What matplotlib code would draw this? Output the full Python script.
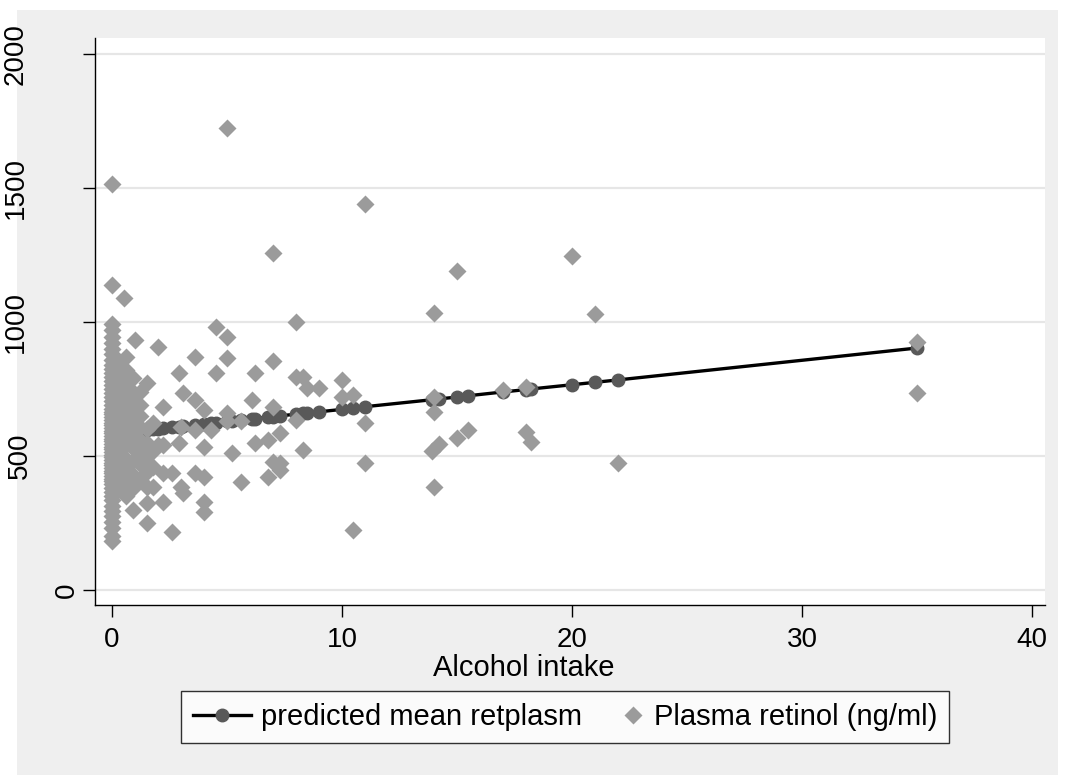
import matplotlib
matplotlib.use("Agg")
import matplotlib.pyplot as plt
import matplotlib.transforms as mtransforms
from matplotlib.patches import Rectangle
from matplotlib.lines import Line2D
from matplotlib.legend_handler import HandlerLine2D

plt.rcParams['font.family'] = ['Liberation Sans', 'DejaVu Sans']

# ---------------- data ----------------
alc0 = [0.0] * 60
ret0 = [183, 201, 230, 255, 275, 295, 315, 335, 350, 365, 380, 395, 405, 415,
        425, 435, 445, 455, 465, 475, 485, 495, 505, 515, 525, 535, 545, 555,
        565, 575, 585, 595, 605, 615, 625, 635, 645, 655, 665, 675, 690, 705,
        720, 735, 750, 765, 780, 795, 810, 825, 840, 860, 880, 900, 920, 945,
        970, 993, 1140, 1515]

alcohol = alc0 + [
    0.3, 0.3, 0.3, 0.3, 0.3, 0.3, 0.3, 0.3, 0.3, 0.3, 0.3,
    0.5, 0.6, 0.6, 0.6, 0.6, 0.6, 0.6, 0.6, 0.6, 0.6, 0.6, 0.6, 0.6,
    0.9, 0.9, 0.9, 0.9, 0.9, 0.9, 0.9, 0.9, 0.9, 0.9, 0.9, 1.0,
    1.2, 1.2, 1.2, 1.2, 1.2, 1.2, 1.2, 1.2,
    1.5, 1.5, 1.5, 1.5, 1.5, 1.5, 1.5, 1.5,
    1.8, 1.8, 1.8, 1.8,
    2.0, 2.0, 2.2, 2.2, 2.2, 2.2,
    2.6, 2.6, 2.9, 2.9, 3.0, 3.0, 3.1, 3.1,
    3.6, 3.6, 3.6, 3.6,
    4.0, 4.0, 4.0, 4.0, 4.0, 4.3, 4.5, 4.5,
    5.0, 5.0, 5.0, 5.0, 5.0, 5.2, 5.6, 5.6,
    6.1, 6.2, 6.2, 6.8, 6.8,
    7.0, 7.0, 7.0, 7.0, 7.3, 7.3, 7.3,
    8.0, 8.0, 8.0, 8.3, 8.3, 8.5, 9.0,
    10.0, 10.0, 10.5, 10.5, 11.0, 11.0, 11.0,
    13.9, 14.0, 14.0, 14.0, 14.0, 14.2,
    15.0, 15.0, 15.5, 17.0, 18.0, 18.0, 18.2,
    20.0, 21.0, 22.0, 35.0, 35.0,
]
retinol = ret0 + [
    380, 420, 470, 520, 560, 600, 650, 700, 750, 800, 850,
    1090, 350, 400, 450, 490, 540, 590, 630, 680, 720, 770, 820, 870,
    300, 380, 430, 480, 530, 580, 620, 660, 700, 740, 790, 933,
    410, 470, 520, 560, 610, 650, 690, 740,
    250, 325, 384, 440, 500, 550, 600, 772,
    384, 460, 520, 623,
    907, 540, 328, 541, 683, 437,
    216, 437, 549, 810, 608, 384, 735, 362,
    870, 709, 597, 437,
    672, 534, 422, 291, 330, 597, 981, 810,
    1724, 944, 866, 660, 630, 511, 403, 631,
    709, 810, 549, 560, 422,
    1257, 854, 683, 478, 586, 448, 474,
    1000, 795, 634, 795, 522, 754, 754,
    784, 720, 728, 224, 1440, 623, 474,
    520, 1034, 720, 664, 384, 545,
    1190, 567, 597, 746, 757, 590, 552,
    1246, 1030, 474, 925, 735,
]

pred_x = [0, 0.3, 0.5, 0.6, 0.9, 1.0, 1.2, 1.5, 1.8, 2.0, 2.2, 2.6, 2.9, 3.0,
          3.1, 3.6, 4.0, 4.3, 4.5, 5.0, 5.2, 5.6, 6.1, 6.2, 6.8, 7.0, 7.3,
          8.0, 8.3, 8.5, 9.0, 10.0, 10.5, 11.0, 13.9, 14.0, 14.2, 15.0, 15.5,
          17.0, 18.0, 18.2, 20.0, 21.0, 22.0, 35.0]
pred_y = [583, 586, 588, 588, 591, 592, 594, 597, 599, 601, 603, 607, 610, 610,
          611, 616, 620, 622, 624, 629, 631, 634, 639, 640, 645, 647, 650,
          656, 659, 661, 665, 674, 679, 684, 710, 711, 713, 720, 725,
          739, 748, 750, 766, 775, 784, 903]

x_ticks = [0, 10, 20, 30, 40]
y_ticks = [0, 500, 1000, 1500, 2000]
x_title = "Alcohol intake"
label_pred = "predicted mean retplasm"
label_obs = "Plasma retinol (ng/ml)"

# ---------------- figure ----------------
W, H = 1067, 775
fig = plt.figure(figsize=(W / 100, H / 100), dpi=100, facecolor='white')
fig.patches.append(Rectangle((17 / W, 0), (1058 - 17) / W, (H - 10) / H,
                             transform=fig.transFigure, facecolor='#efefef',
                             edgecolor='none', zorder=-10))

ax = fig.add_axes([95 / W, (H - 605) / H, 950 / W, 567 / H])
ax.set_facecolor('white')

ax.plot(pred_x, pred_y, color='black', linewidth=2.4, marker='o',
        markersize=9, markerfacecolor='#595959', markeredgecolor='#595959',
        zorder=3, label=label_pred)
ax.plot(alcohol, retinol, linestyle='none', marker='D', markersize=9,
        color='#9b9b9b', markeredgecolor='none', zorder=4, label=label_obs)

ax.set_xlim(-0.74, 40.57)
ax.set_ylim(-56, 2060)
ax.set_xticks(x_ticks)
ax.set_yticks(y_ticks)
ax.set_yticklabels([])
ax.grid(axis='y', color='#e6e6e6', linewidth=1.6, zorder=0)
ax.set_axisbelow(True)
for s in ['top', 'right']:
    ax.spines[s].set_visible(False)
for s in ['left', 'bottom']:
    ax.spines[s].set_color('black')
    ax.spines[s].set_linewidth(1.0)
ax.tick_params(axis='both', direction='out', length=8.5, width=1,
               color='black', labelsize=20, pad=7)

# Stata-style rotated y labels (longer labels drift left, kept on canvas)
blend = mtransforms.blended_transform_factory(fig.transFigure, ax.transData)
for v in y_ticks:
    lab = str(v)
    xc = max(67 - 23.5 * (len(lab) - 1), 16)
    ax.text(xc / W, v, lab, transform=blend, rotation=90, ha='center',
            va='center', fontsize=20, clip_on=False)

fig.text(524 / W, 1 - 668 / H, x_title, ha='center', va='center',
         fontsize=21)


class HandlerMarkerRight(HandlerLine2D):
    """Marker-only legend key drawn near the right end of the key box."""

    def create_artists(self, legend, orig_handle, xdescent, ydescent, width,
                       height, fontsize, trans):
        arts = super().create_artists(legend, orig_handle, xdescent, ydescent,
                                      width, height, fontsize, trans)
        xr = width - xdescent - 0.35 * fontsize
        for a in arts:
            n = len(a.get_xdata())
            a.set_xdata([xr] * n)
        return arts


h1 = Line2D([], [], color='black', linewidth=2.4, marker='o', markersize=9,
            markerfacecolor='#595959', markeredgecolor='#595959')
h2 = Line2D([], [], linestyle='none', marker='D', markersize=9,
            color='#9b9b9b', markeredgecolor='none')
leg = fig.legend([h1, h2], [label_pred, label_obs], loc='center',
                 bbox_to_anchor=(565 / W, 1 - 717 / H), ncol=2, fontsize=21,
                 frameon=True, fancybox=False, edgecolor='black',
                 handlelength=2.0, handletextpad=0.35, columnspacing=0.1,
                 borderpad=0.4, numpoints=1,
                 handler_map={h2: HandlerMarkerRight(numpoints=1)})
leg.get_frame().set_linewidth(1.0)
leg.get_frame().set_facecolor('white')

fig.savefig('out.png', dpi=100, facecolor=fig.get_facecolor())
